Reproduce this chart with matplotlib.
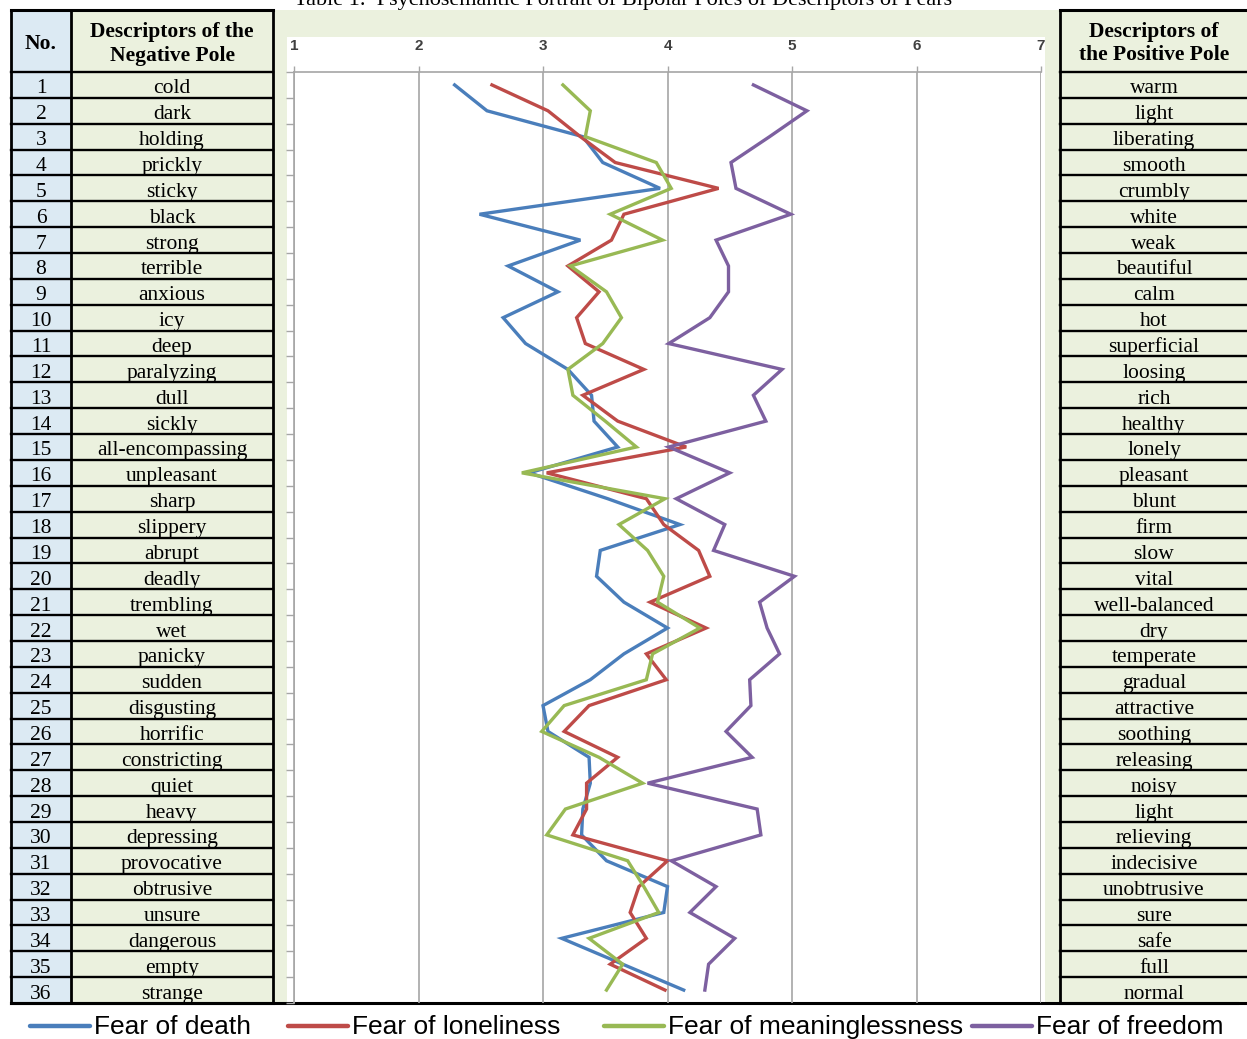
import matplotlib
matplotlib.use("Agg")
import matplotlib.pyplot as plt
from matplotlib.patches import Rectangle
import numpy as np

W, H = 1247, 1039

# descriptors (table columns)
negative_pole = ["cold", "dark", "holding", "prickly", "sticky", "black", "strong", "terrible",
                 "anxious", "icy", "deep", "paralyzing", "dull", "sickly", "all-encompassing",
                 "unpleasant", "sharp", "slippery", "abrupt", "deadly", "trembling", "wet",
                 "panicky", "sudden", "disgusting", "horrific", "constricting", "quiet", "heavy",
                 "depressing", "provocative", "obtrusive", "unsure", "dangerous", "empty", "strange"]
positive_pole = ["warm", "light", "liberating", "smooth", "crumbly", "white", "weak", "beautiful",
                 "calm", "hot", "superficial", "loosing", "rich", "healthy", "lonely", "pleasant",
                 "blunt", "firm", "slow", "vital", "well-balanced", "dry", "temperate", "gradual",
                 "attractive", "soothing", "releasing", "noisy", "light", "relieving", "indecisive",
                 "unobtrusive", "sure", "safe", "full", "normal"]

# mean scores per descriptor
fear_of_death = [2.29, 2.55, 3.32, 3.48, 3.94, 2.49, 3.30, 2.72, 3.12, 2.68, 2.86, 3.20,
                 3.39, 3.41, 3.60, 2.89, 3.52, 4.10, 3.46, 3.43, 3.65, 4.00, 3.65, 3.38,
                 3.00, 3.04, 3.37, 3.38, 3.32, 3.31, 3.51, 4.00, 3.97, 3.15, 3.64, 4.13]
fear_of_loneliness = [2.59, 3.04, 3.30, 3.58, 4.41, 3.65, 3.55, 3.20, 3.45, 3.27, 3.34, 3.81,
                      3.32, 3.60, 4.15, 3.03, 3.83, 3.97, 4.25, 4.34, 3.86, 4.31, 3.83, 3.99,
                      3.37, 3.17, 3.60, 3.35, 3.35, 3.24, 4.00, 3.77, 3.70, 3.83, 3.54, 3.98]
fear_of_meaninglessness = [3.16, 3.38, 3.34, 3.91, 4.03, 3.54, 3.96, 3.22, 3.51, 3.63, 3.48, 3.20,
                           3.24, 3.50, 3.75, 2.83, 3.98, 3.61, 3.84, 3.97, 3.92, 4.26, 3.88, 3.83,
                           3.17, 2.99, 3.45, 3.80, 3.18, 3.03, 3.68, 3.81, 3.93, 3.37, 3.64, 3.51]
fear_of_freedom = [4.69, 5.12, 4.82, 4.51, 4.55, 4.99, 4.39, 4.49, 4.49, 4.34, 4.01, 4.92,
                   4.69, 4.79, 4.01, 4.50, 4.07, 4.46, 4.37, 5.02, 4.74, 4.80, 4.90, 4.66,
                   4.67, 4.47, 4.68, 3.84, 4.72, 4.75, 4.03, 4.39, 4.18, 4.54, 4.33, 4.30]

series_names = ["Fear of death", "Fear of loneliness", "Fear of meaninglessness", "Fear of freedom"]
colors = ["#4A7EBB", "#BE4B48", "#98B954", "#7D60A0"]
scale_ticks = [1, 2, 3, 4, 5, 6, 7]

GREEN = "#EBF1DE"
BLUE = "#DCEAF3"
serif = ["Liberation Serif", "DejaVu Serif"]
sans = ["Liberation Sans", "DejaVu Sans"]


def frac(x0, y0, x1, y1):
    return [x0 / W, 1 - y1 / H, (x1 - x0) / W, (y1 - y0) / H]


fig = plt.figure(figsize=(W / 100, H / 100), dpi=100)

# pixel-space layer for the table
base = fig.add_axes([0, 0, 1, 1])
base.set_xlim(0, W)
base.set_ylim(H, 0)
base.axis("off")

top, head_bot, bottom = 10, 72, 1003
n = len(negative_pole)
row_h = (bottom - head_bot) / n

# chart background
base.add_patch(Rectangle((273, top), 1060 - 273, bottom - top, facecolor=GREEN, edgecolor="none"))
base.add_patch(Rectangle((287, 37), 1045 - 287, bottom - 37, facecolor="white", edgecolor="none"))

# table cells
base.add_patch(Rectangle((11, top), 60, bottom - top, facecolor=BLUE, edgecolor="none"))
base.add_patch(Rectangle((71, top), 202, bottom - top, facecolor=GREEN, edgecolor="none"))
base.add_patch(Rectangle((1060, top), W - 1060, bottom - top, facecolor=GREEN, edgecolor="none"))

lw = 1.7
for k in range(n + 1):
    y = head_bot + k * row_h
    base.plot([11, 273], [y, y], color="black", lw=lw if k < n else 2.2, solid_capstyle="projecting")
    base.plot([1060, W], [y, y], color="black", lw=lw if k < n else 2.2, solid_capstyle="projecting")
base.plot([11, 273], [top, top], color="black", lw=2.2)
base.plot([1060, W], [top, top], color="black", lw=2.2)
for x in [11, 71, 273]:
    base.plot([x, x], [top, bottom], color="black", lw=2.0)
base.plot([1060, 1060], [top, bottom], color="black", lw=2.0)
base.plot([11, 1237], [bottom, bottom], color="black", lw=2.2)

# header
base.text(41, 44, "No.", ha="center", va="center", fontsize=15.5, fontweight="bold", family=serif)
base.text(172, 44, "Descriptors of the\nNegative Pole", ha="center", va="center",
          fontsize=15.5, fontweight="bold", family=serif, linespacing=1.2)
base.text(1154, 44, "Descriptors of\nthe Positive Pole", ha="center", va="center",
          fontsize=15.5, fontweight="bold", family=serif, linespacing=1.2)

for i in range(n):
    yc = head_bot + (i + 0.5) * row_h + 4
    base.text(41, yc, str(i + 1), ha="center", va="center", fontsize=15.5, family=serif)
    base.text(172, yc, negative_pole[i], ha="center", va="center", fontsize=15.5, family=serif)
    base.text(1154, yc, positive_pole[i], ha="center", va="center", fontsize=15.5, family=serif)

# title (cut off at the top edge, as in the source)
base.text(623, 5, "Table 1.  Psychosemantic Portrait of Bipolar Poles of Descriptors of Fears",
          ha="center", va="baseline", fontsize=16, family=serif)

# chart
ax = fig.add_axes(frac(294, head_bot, 1041, bottom))
ax.set_facecolor("none")
rows = np.arange(1, n + 1)
for vals, c in zip([fear_of_death, fear_of_loneliness, fear_of_meaninglessness, fear_of_freedom], colors):
    ax.plot(vals, rows, color=c, lw=2.4, solid_joinstyle="miter")
ax.set_xlim(1, 7)
ax.set_ylim(n + 0.5, 0.5)
ax.xaxis.tick_top()
ax.set_xticks(scale_ticks)
ax.set_xticklabels([str(t) for t in scale_ticks], fontsize=11, fontweight="bold",
                   color="#404040", family=sans)
ax.tick_params(axis="x", direction="out", length=4, width=1, color="#A6A6A6", pad=10)
ax.set_yticks(np.arange(0.5, n + 1, 1))
ax.set_yticklabels([])
ax.tick_params(axis="y", direction="out", length=6, width=1, color="#A6A6A6")
ax.grid(axis="x", color="#A6A6A6", lw=1.2)
for s in ["right", "bottom"]:
    ax.spines[s].set_visible(False)
for s in ["top", "left"]:
    ax.spines[s].set_color("#A6A6A6")
    ax.spines[s].set_linewidth(1.2)

# legend along the bottom
legend_x = [30, 288, 604, 972]
for x0, name, c in zip(legend_x, series_names, colors):
    base.plot([x0, x0 + 60], [1026, 1026], color=c, lw=3.2, solid_capstyle="round")
    base.text(x0 + 64, 1027, name, ha="left", va="center", fontsize=19, family=sans)

fig.savefig("out.png", dpi=100)
